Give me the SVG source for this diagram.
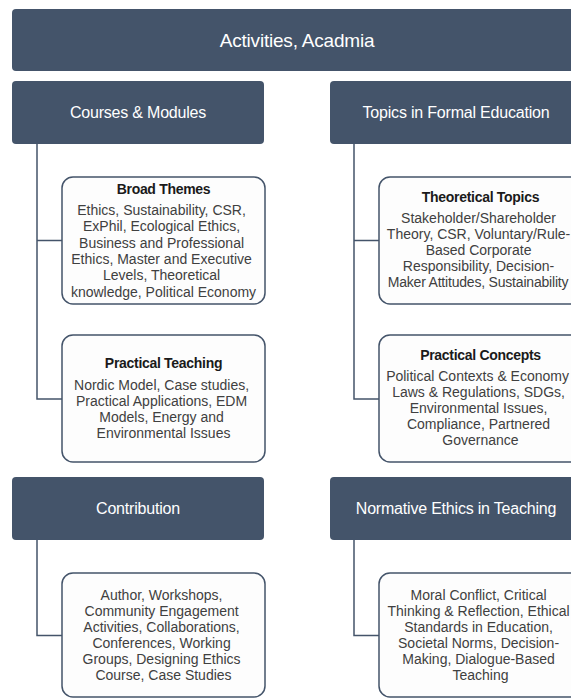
<svg xmlns="http://www.w3.org/2000/svg" width="571" height="698" viewBox="0 0 571 698">
  <style>
    .hdr { fill: #44546A; }
    .hdr-text { fill: #FFFFFF; font-family: "Liberation Sans", Arial, sans-serif; font-size: 16px; text-anchor: middle; letter-spacing: -0.2px; }
    .main-text { font-size: 19px; }
    .card { fill: #FDFDFD; stroke: #44546A; stroke-width: 1.5; }
    .card-title { fill: #1A1A1A; font-family: "Liberation Sans", Arial, sans-serif; font-size: 14px; font-weight: bold; text-anchor: middle; letter-spacing: -0.3px; }
    .card-body { fill: #404040; font-family: "Liberation Sans", Arial, sans-serif; font-size: 14px; text-anchor: middle; }
    .tight { letter-spacing: -0.2px; }
    .link { fill: none; stroke: #44546A; stroke-width: 1.5; }
  </style>
  <rect width="571" height="698" fill="#FFFFFF"/>

  <!-- connectors -->
  <g id="connectors">
    <path class="link" d="M37 144 V399 H62 M37 240.5 H62"/>
    <path class="link" d="M354 144 V399 H379 M354 240.5 H379"/>
    <path class="link" d="M37 540 V635.5 H62"/>
    <path class="link" d="M354 540 V635.5 H379"/>
  </g>

  <!-- root -->
  <g id="root">
    <rect class="hdr" x="12" y="9" width="570" height="62" rx="4"/>
    <text class="hdr-text main-text" x="297" y="46.5">Activities, Acadmia</text>
  </g>

  <!-- left column -->
  <g id="courses-modules">
    <rect class="hdr" x="12" y="81" width="252" height="63" rx="4"/>
    <text class="hdr-text" x="138" y="118">Courses &amp; Modules</text>
  </g>
  <g id="broad-themes">
    <rect class="card" x="62" y="177" width="203" height="127" rx="11"/>
    <text class="card-title" x="163.5" y="193.5">Broad Themes</text>
    <text class="card-body">
      <tspan x="163.5" y="215">Ethics, Sustainability, CSR,</tspan>
      <tspan x="163.5" y="231.3">ExPhil, Ecological Ethics,</tspan>
      <tspan x="163.5" y="247.6">Business and Professional</tspan>
      <tspan x="163.5" y="263.9">Ethics, Master and Executive</tspan>
      <tspan x="163.5" y="280.2">Levels, Theoretical</tspan>
      <tspan x="163.5" y="296.5">knowledge, Political Economy</tspan>
    </text>
  </g>
  <g id="practical-teaching">
    <rect class="card" x="62" y="335" width="203" height="127" rx="11"/>
    <text class="card-title" x="163.5" y="368">Practical Teaching</text>
    <text class="card-body">
      <tspan x="163.5" y="389.5">Nordic Model, Case studies,</tspan>
      <tspan x="163.5" y="405.5">Practical Applications, EDM</tspan>
      <tspan x="163.5" y="421.5">Models, Energy and</tspan>
      <tspan x="163.5" y="437.5">Environmental Issues</tspan>
    </text>
  </g>

  <!-- right column -->
  <g id="topics-formal-education">
    <rect class="hdr" x="330" y="81" width="252" height="63" rx="4"/>
    <text class="hdr-text" x="456" y="118">Topics in Formal Education</text>
  </g>
  <g id="theoretical-topics">
    <rect class="card" x="379" y="177" width="203" height="127" rx="11"/>
    <text class="card-title" x="480.5" y="202">Theoretical Topics</text>
    <text class="card-body">
      <tspan x="480.5" y="223.3">Stakeholder/Shareholder</tspan>
      <tspan x="480.5" y="239.3">Theory, CSR, Voluntary/Rule-</tspan>
      <tspan x="480.5" y="255.3">Based Corporate</tspan>
      <tspan x="480.5" y="271.3">Responsibility, Decision-</tspan>
      <tspan class="tight" x="478" y="287.3">Maker Attitudes, Sustainability</tspan>
    </text>
  </g>
  <g id="practical-concepts">
    <rect class="card" x="379" y="335" width="203" height="127" rx="11"/>
    <text class="card-title" x="480.5" y="360">Practical Concepts</text>
    <text class="card-body">
      <tspan x="479.5" y="381.3">Political Contexts &amp; Economy</tspan>
      <tspan x="480.5" y="397.3">Laws &amp; Regulations, SDGs,</tspan>
      <tspan x="480.5" y="413.3">Environmental Issues,</tspan>
      <tspan x="480.5" y="429.3">Compliance, Partnered</tspan>
      <tspan x="480.5" y="445.3">Governance</tspan>
    </text>
  </g>

  <!-- bottom row -->
  <g id="contribution">
    <rect class="hdr" x="12" y="477" width="252" height="63" rx="4"/>
    <text class="hdr-text" x="138" y="514">Contribution</text>
  </g>
  <g id="contribution-details">
    <rect class="card" x="62" y="573" width="203" height="124" rx="11"/>
    <text class="card-body">
      <tspan x="163.5" y="600">Author, Workshops,</tspan>
      <tspan x="163.5" y="616">Community Engagement</tspan>
      <tspan x="163.5" y="632">Activities, Collaborations,</tspan>
      <tspan x="163.5" y="648">Conferences, Working</tspan>
      <tspan x="163.5" y="664">Groups, Designing Ethics</tspan>
      <tspan x="163.5" y="680">Course, Case Studies</tspan>
    </text>
  </g>
  <g id="normative-ethics">
    <rect class="hdr" x="330" y="477" width="252" height="63" rx="4"/>
    <text class="hdr-text" x="456" y="514">Normative Ethics in Teaching</text>
  </g>
  <g id="normative-details">
    <rect class="card" x="379" y="573" width="203" height="124" rx="11"/>
    <text class="card-body">
      <tspan x="480.5" y="600">Moral Conflict, Critical</tspan>
      <tspan x="480.5" y="616">Thinking &amp; Reflection, Ethical</tspan>
      <tspan x="480.5" y="632">Standards in Education,</tspan>
      <tspan x="480.5" y="648">Societal Norms, Decision-</tspan>
      <tspan x="480.5" y="664">Making, Dialogue-Based</tspan>
      <tspan x="480.5" y="680">Teaching</tspan>
    </text>
  </g>
</svg>
